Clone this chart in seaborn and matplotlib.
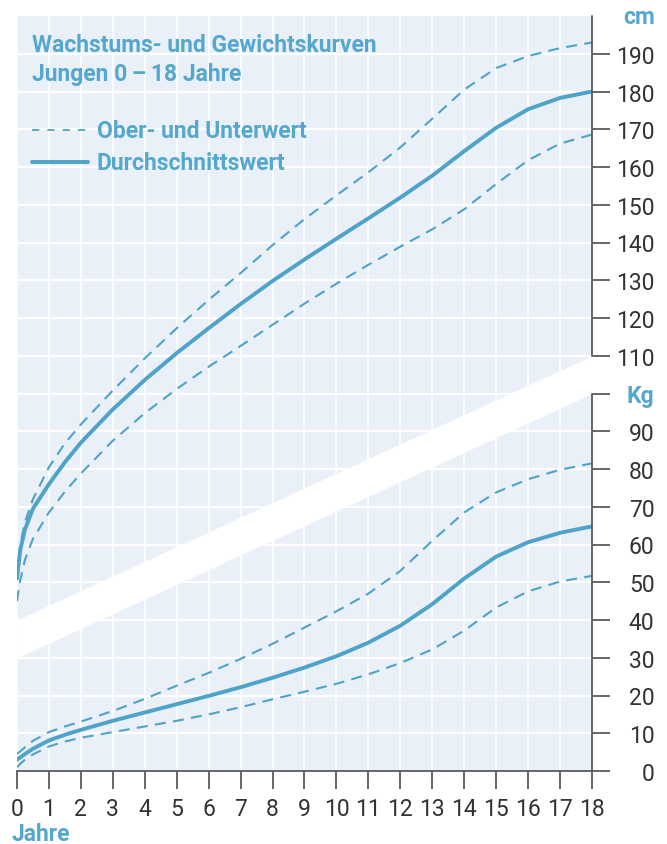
import matplotlib
matplotlib.use("Agg")
import matplotlib.pyplot as plt
from matplotlib.lines import Line2D
import seaborn as sns
import pandas as pd

# Age in years
ages = [0, 0.1, 0.25, 0.5, 1, 1.5, 2, 3, 4, 5, 6, 7, 8, 9, 10, 11, 12, 13, 14, 15, 16, 17, 18]

# Body height in cm
height_mean = [51, 58.5, 64, 69.5, 76, 81.8, 87, 95.8, 103.6, 110.7, 117.3, 123.7, 129.8, 135.5,
               141, 146.4, 151.9, 157.7, 164.2, 170.4, 175.3, 178.3, 180]
height_upper = [52, 60, 66, 72, 80.5, 86.8, 91.8, 100.8, 109.3, 117.3, 124.8, 131.9, 139.3, 146.2,
                152.5, 158.6, 165.2, 172.8, 180.5, 186.2, 189.4, 191.5, 193]
height_lower = [45, 50.5, 56, 61.5, 68.5, 74, 78.8, 87.5, 94.8, 101.2, 107.1, 112.6, 118.2, 123.8,
                129.1, 134.1, 138.9, 143.5, 148.8, 155.5, 161.8, 166.2, 168.6]

# Body weight in kg
weight_mean = [3, 3.6, 4.5, 5.9, 8.1, 9.6, 10.9, 13.3, 15.5, 17.7, 19.9, 22.2, 24.7, 27.4,
               30.4, 34, 38.5, 44.2, 51, 56.8, 60.6, 63.1, 64.8]
weight_upper = [4.5, 5.2, 6.3, 8, 10.3, 11.8, 13.1, 15.9, 19.1, 22.6, 26, 29.7, 33.7, 38,
                42.3, 47, 53, 61, 68.5, 73.8, 77.3, 79.8, 81.5]
weight_lower = [1, 1.9, 3, 4.4, 6.5, 7.8, 8.8, 10.3, 11.8, 13.3, 15, 16.9, 19, 21,
                23.1, 25.6, 28.6, 32.2, 37.2, 43.3, 47.6, 50.2, 51.7]

year_ticks = list(range(0, 19))
kg_ticks = list(range(0, 100, 10))
cm_ticks = list(range(110, 200, 10))

title_lines = ["Wachstums- und Gewichtskurven", "Jungen 0\u2009\u2013\u200918 Jahre"]
legend_labels = ["Ober- und Unterwert", "Durchschnittswert"]

BLUE = "#4fa2c8"
TEXT_BLUE = "#55a7cd"
BG = "#e9f0f8"
DARK = "#333333"
AXIS = "#5a5a5a"
FONT = ["Roboto", "DejaVu Sans"]

sns.set_style("white", {"axes.facecolor": BG, "grid.color": "white"})
plt.rcParams["font.family"] = FONT

W, H = 667, 845
fig = plt.figure(figsize=(W / 100, H / 100), dpi=100)
ax = fig.add_axes([17 / W, 73 / H, 575 / W, 755 / H])
ax.set_facecolor(BG)

ax.set_xlim(0, 18)
ax.set_ylim(0, 200)

# grid
for x in year_ticks:
    ax.axvline(x, color="white", lw=1.2, zorder=1)
for y in range(10, 200, 10):
    ax.axhline(y, color="white", lw=1.6, zorder=1)

# diagonal white band separating the two scales
ax.fill_between([0, 18], [30, 100], [40, 110], color="white", lw=0, zorder=2)

df = pd.DataFrame({
    "age": ages,
    "h_mean": height_mean, "h_up": height_upper, "h_low": height_lower,
    "w_mean": weight_mean, "w_up": weight_upper, "w_low": weight_lower,
})

for col in ["h_up", "h_low", "w_up", "w_low"]:
    sns.lineplot(data=df, x="age", y=col, ax=ax, color=BLUE, lw=1.5,
                 linestyle=(0, (5.3, 3.5)), zorder=3)
for col in ["h_mean", "w_mean"]:
    sns.lineplot(data=df, x="age", y=col, ax=ax, color=BLUE, lw=2.8, zorder=4)

ax.set_xlabel("")
ax.set_ylabel("")

for s in ["left", "top", "right"]:
    ax.spines[s].set_visible(False)
ax.spines["bottom"].set_color(AXIS)
ax.spines["bottom"].set_linewidth(1.3)

# right scale line with a gap at the band
ax.plot([18, 18], [110, 200], color=AXIS, lw=1.3, clip_on=False, zorder=5)
ax.plot([18, 18], [0, 100], color=AXIS, lw=1.3, clip_on=False, zorder=5)

ax.set_xticks(year_ticks)
ax.set_xticklabels([str(v) for v in year_ticks])
ax.tick_params(axis="x", bottom=True, length=13, width=1.3, color=AXIS,
               labelsize=16.5, labelcolor=DARK, pad=6)

yt = kg_ticks + [100] + cm_ticks
ylabels = [str(v) for v in kg_ticks] + ["Kg"] + [str(v) for v in cm_ticks]
ax.yaxis.tick_right()
ax.set_yticks(yt)
ax.set_yticklabels(ylabels)
ax.tick_params(axis="y", right=True, left=False, length=13, width=1.3, color=AXIS,
               labelsize=16.5, labelcolor=DARK, pad=32)
for lab in ax.get_yticklabels():
    lab.set_horizontalalignment("right")
    if lab.get_text() == "Kg":
        lab.set_color(TEXT_BLUE)
        lab.set_fontweight("bold")

fig.text(655 / W, 1 - 17 / H, "cm", ha="right", va="center", fontsize=16.5,
         fontweight="bold", color=TEXT_BLUE)
fig.text(12 / W, 1 - 835 / H, "Jahre", ha="left", va="center", fontsize=16.5,
         fontweight="bold", color=TEXT_BLUE)

# title
fig.text(32 / W, 1 - 45 / H, title_lines[0], ha="left", va="center", fontsize=16.5,
         fontweight="bold", color=TEXT_BLUE)
fig.text(32 / W, 1 - 75 / H, title_lines[1], ha="left", va="center", fontsize=16.5,
         fontweight="bold", color=TEXT_BLUE)

# legend
y1 = 1 - 131 / H
y2 = 1 - 163 / H
fig.add_artist(Line2D([32 / W, 88 / W], [y1, y1], color=BLUE, lw=1.3,
                      linestyle=(0, (4, 4.5))))
fig.add_artist(Line2D([32 / W, 88 / W], [y2, y2], color=BLUE, lw=2.8))
fig.text(97 / W, y1, legend_labels[0], ha="left", va="center", fontsize=16.5,
         fontweight="bold", color=TEXT_BLUE)
fig.text(97 / W, y2, legend_labels[1], ha="left", va="center", fontsize=16.5,
         fontweight="bold", color=TEXT_BLUE)

fig.savefig("out.png", dpi=100, facecolor="white")
